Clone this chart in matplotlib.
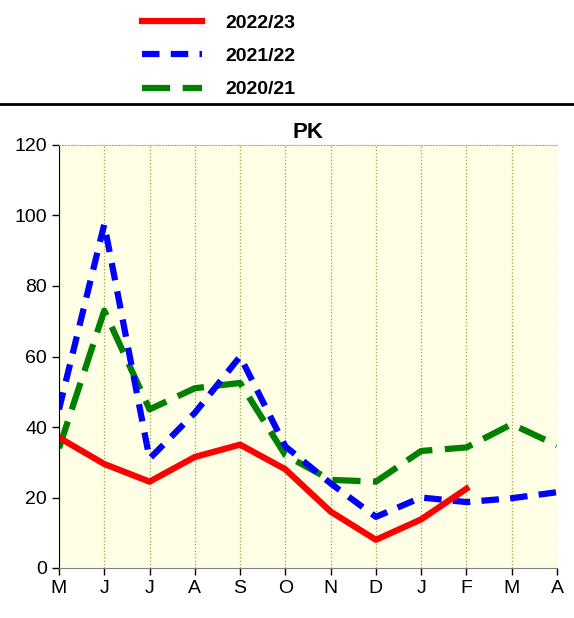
import numpy as np
import matplotlib.pyplot as plt
from matplotlib.lines import Line2D

months = ['M', 'J', 'J', 'A', 'S', 'O', 'N', 'D', 'J', 'F', 'M', 'A']
pk_2022 = [37, 29.5, 24.5, 31.5, 35, 28, 16, 8, 13.8, 22.5]
pk_2021 = [45, 97.5, 31, 44, 60, 34.5, 24, 14.5, 20, 18.7, 19.8, 21.5]
pk_2020 = [34, 73, 45, 51, 52.5, 32, 25, 24.5, 33.2, 34.2, 40.8, 34.8]

plt.rcParams['font.family'] = ['Liberation Sans', 'DejaVu Sans']

fig = plt.figure(figsize=(5.74, 6.18), dpi=100)
ax = fig.add_axes([59/574, 1-568/618, 498/574, 423/618])
ax.set_facecolor('#ffffe6')

x = np.arange(len(months))
l3, = ax.plot(x, pk_2020, color='#008000', lw=4.5, dashes=(4.5, 2.0), label='2020/21')
l2, = ax.plot(x, pk_2021, color='#0000ff', lw=4.5, dashes=(2.8, 1.8), label='2021/22')
l1, = ax.plot(x[:len(pk_2022)], pk_2022, color='#ff0000', lw=4.5, label='2022/23')

ax.set_xlim(0, len(months)-1)
ax.set_ylim(0, 120)
ax.set_yticks(range(0, 121, 20))
ax.set_xticks(x)
ax.set_xticklabels(months)
ax.tick_params(labelsize=14, direction='out', length=5, width=1)
ax.grid(axis='x', color='#a0a040', linestyle=':', lw=0.9)
ax.spines['left'].set_color('black')
ax.spines['bottom'].set_color('#808080')
ax.spines['top'].set_color('#b0b060')
ax.spines['top'].set_linestyle(':')
ax.spines['right'].set_visible(False)
ax.set_title('PK', fontsize=16, fontweight='bold', pad=5)

fig.legend(handles=[l1, l2, l3], loc='upper left', bbox_to_anchor=(124/574, 1.005),
           frameon=False, handlelength=3.1, handletextpad=1.2, labelspacing=0.8,
           prop={'weight': 'bold', 'size': 14})
fig.add_artist(Line2D([0, 1], [1-104/618]*2, color='black', lw=2))

fig.savefig('out.png', dpi=100)
